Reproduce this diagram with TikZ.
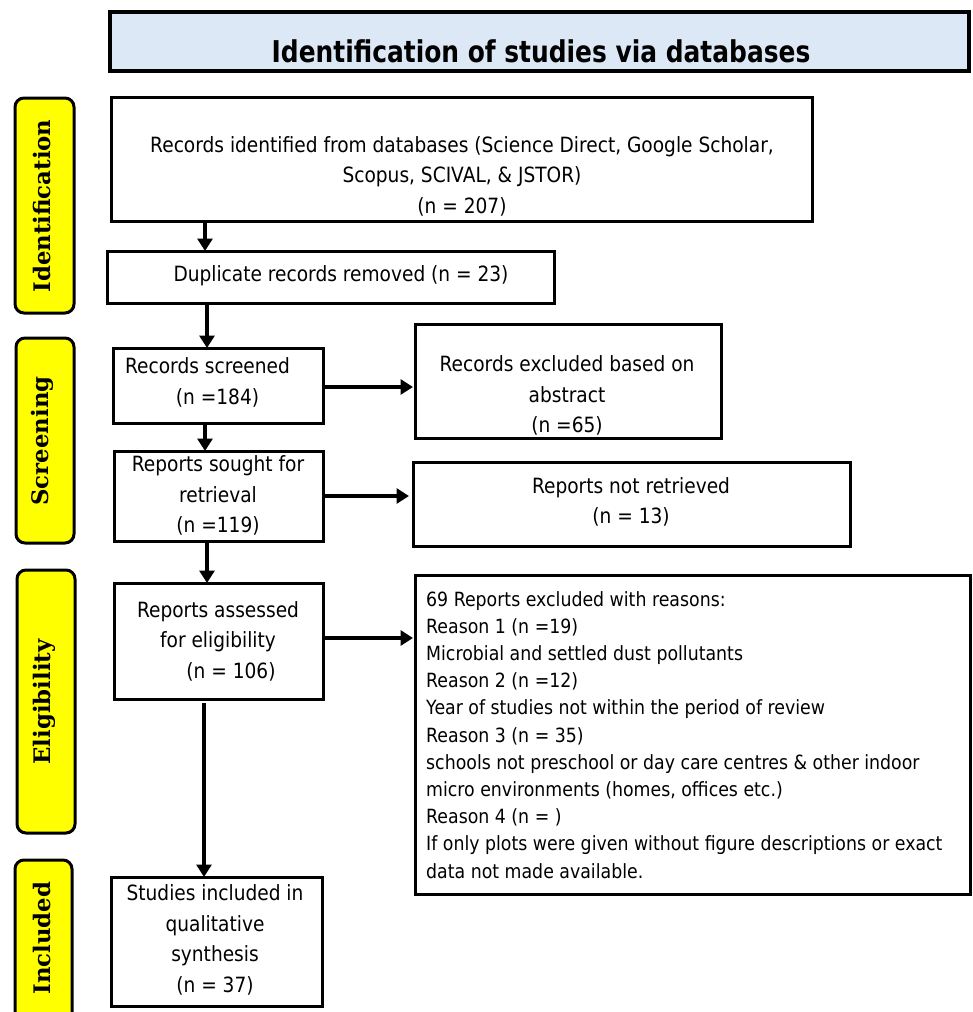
\documentclass[tikz,border=0pt]{standalone}
\usepackage{fontspec}
\setmainfont{DejaVu Sans}[FakeStretch=0.885]
\newfontfamily\titlefont{DejaVu Sans}[FakeStretch=0.83]
\newfontfamily\labelfont{DejaVu Serif}
\usetikzlibrary{arrows.meta}
\definecolor{titleblue}{HTML}{DCE8F5}
\definecolor{labyellow}{HTML}{FFFF00}
\tikzset{
  boxnode/.style={draw=black, line width=3pt, fill=white, rectangle, inner sep=0pt, outer sep=0pt},
  lanebox/.style={draw=black, line width=3pt, fill=labyellow, rectangle, rounded corners=9pt, inner sep=0pt, outer sep=0pt},
  lanetext/.style={rotate=90, font=\labelfont\bfseries\fontsize{22.8}{26}\selectfont, inner sep=0pt},
  boxtext/.style={align=center, inner sep=0pt, font=\fontsize{21}{30.5}\selectfont},
  arr/.style={line width=4pt, -{Triangle[length=12.5pt,width=15pt]}},
}
\begin{document}
\begin{tikzpicture}[x=1pt,y=-1pt]
\clip (0,0) rectangle (972,1012);
\fill[white] (0,0) rectangle (972,1012);

% title
\node[boxnode, fill=titleblue, line width=4pt, minimum width=859pt, minimum height=59pt] (title) at (539.5,41.5) {};
\node[inner sep=0pt, font=\titlefont\bfseries\fontsize{30}{36}\selectfont] (titletext) at (541,51) {Identification of studies via databases};

% lane labels
\node[lanebox, minimum width=59pt, minimum height=215pt] (lane1) at (44.5,205.5) {};
\node[lanetext] (lane1t) at (42,206) {Identification};
\node[lanebox, minimum width=58pt, minimum height=205pt] (lane2) at (45,440.5) {};
\node[lanetext] (lane2t) at (42,441) {Screening};
\node[lanebox, minimum width=58pt, minimum height=263pt] (lane3) at (46,701.5) {};
\node[lanetext] (lane3t) at (44,702) {Eligibility};
\node[lanebox, minimum width=57pt, minimum height=170pt] (lane4) at (43.5,945) {};
\node[lanetext] (lane4t) at (42,938) {Included};

% boxes
\node[boxnode, minimum width=701pt, minimum height=124pt] (b1) at (461.5,159) {};
\node[boxnode, minimum width=447pt, minimum height=52pt] (b2) at (330.5,277) {};
\node[boxnode, minimum width=210pt, minimum height=75pt] (b3) at (218,385.5) {};
\node[boxnode, minimum width=306pt, minimum height=114pt] (b4) at (568,381) {};
\node[boxnode, minimum width=209pt, minimum height=90pt] (b5) at (218.5,496) {};
\node[boxnode, minimum width=437pt, minimum height=84pt] (b6) at (631.5,504) {};
\node[boxnode, minimum width=209pt, minimum height=116pt] (b7) at (218.5,641) {};
\node[boxnode, minimum width=555pt, minimum height=319pt] (b8) at (692.5,734.5) {};
\node[boxnode, minimum width=211pt, minimum height=129pt] (b9) at (216.5,941.5) {};

% texts
\node[boxtext] (t1) at (462,176) {Records identified from databases (Science Direct, Google Scholar,\\ Scopus, SCIVAL, \& JSTOR)\\ (n = 207)};
\node[boxtext] (t2) at (341,276) {Duplicate records removed (n = 23)};
\node[boxtext] (t3) at (207.5,382.5) {Records screened\\ \hspace*{20pt}(n =184)};
\node[boxtext] (t4) at (567,395.5) {Records excluded based on\\ abstract\\ (n =65)};
\node[boxtext] (t5) at (218,495.5) {Reports sought for\\ retrieval\\ (n =119)};
\node[boxtext] (t6) at (631,502) {Reports not retrieved\\ (n = 13)};
\node[boxtext] (t7) at (218,641) {Reports assessed\\ for eligibility\\ \hspace*{26pt}(n = 106)};
\node[align=left, anchor=north west, inner sep=0pt, font=\fontsize{19.6}{27.2}\selectfont] (t8) at (426,591) {69 Reports excluded with reasons:\\
Reason 1 (n =19)\\
Microbial and settled dust pollutants\\
Reason 2 (n =12)\\
Year of studies not within the period of review\\
Reason 3 (n = 35)\\
schools not preschool or day care centres \& other indoor\\
micro environments (homes, offices etc.)\\
Reason 4 (n = )\\
If only plots were given without figure descriptions or exact\\
data not made available.};
\node[boxtext] (t9) at (215,940) {Studies included in\\ qualitative\\ synthesis\\ (n = 37)};

% arrows
\coordinate (cA) at (205,0);
\coordinate (cB) at (207,0);
\coordinate (cC) at (204,0);
\coordinate (r3) at (0,387);
\coordinate (r7) at (0,638);
\draw[arr] (b1.south -| cA) -- (b2.north -| cA);
\draw[arr] (b2.south -| cB) -- (b3.north -| cB);
\draw[arr, shorten >=2pt] (b3.east |- r3) -- (b4.west |- r3);
\draw[arr] (b3.south -| cA) -- (b5.north -| cA);
\draw[arr, shorten >=4pt] (b5.east) -- (b6.west |- b5.east);
\draw[arr] (b5.south -| cB) -- (b7.north -| cB);
\draw[arr, shorten >=2pt] (b7.east |- r7) -- (b8.west |- r7);
\draw[arr, shorten <=4pt] (b7.south -| cC) -- (b9.north -| cC);
\end{tikzpicture}
\end{document}
